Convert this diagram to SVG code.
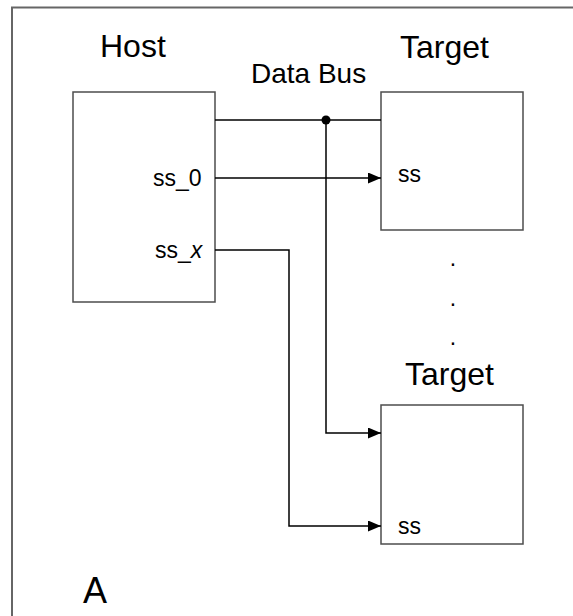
<svg xmlns="http://www.w3.org/2000/svg" width="573" height="616" viewBox="0 0 573 616">
<defs>
<style>
.box{fill:#fff;stroke:#4d4d4d;stroke-width:1.5}
.frame{fill:none;stroke:#666;stroke-width:2}
.wire{fill:none;stroke:#000;stroke-width:1.5}
.t{font-family:"Liberation Sans",Arial,sans-serif;fill:#000}
.big{font-size:32px}
.mid{font-size:28px}
.sm{font-size:23px}
</style>
<marker id="arr" viewBox="0 0 13 11" refX="13" refY="5.5" markerWidth="13" markerHeight="11" markerUnits="userSpaceOnUse" orient="auto">
<path d="M0,0 L13,5.5 L0,11 Z" fill="#000"/>
</marker>
</defs>
<rect width="573" height="616" fill="#fff"/>
<path class="frame" d="M12,620 L12,7.5 L580,7.5"/>
<g id="host">
<rect class="box" x="73" y="92" width="142" height="210"/>
<text class="t big" x="100" y="57">Host</text>
<text class="t sm" x="153" y="186">ss_0</text>
<text class="t sm" x="155" y="258">ss_<tspan font-style="italic">x</tspan></text>
</g>
<g id="target1">
<rect class="box" x="381" y="92" width="142" height="138"/>
<text class="t big" x="400" y="58">Target</text>
<text class="t sm" x="398" y="182">ss</text>
</g>
<g id="target2">
<rect class="box" x="381" y="405" width="142" height="139"/>
<text class="t big" x="405" y="385">Target</text>
<text class="t sm" x="398" y="534">ss</text>
</g>
<g id="dots">
<text class="t sm" x="453" y="266" text-anchor="middle">.</text>
<text class="t sm" x="453" y="306" text-anchor="middle">.</text>
<text class="t sm" x="453" y="345" text-anchor="middle">.</text>
</g>
<g id="labels">
<text class="t mid" x="251" y="83">Data Bus</text>
<text class="t" font-size="36" x="83" y="603">A</text>
</g>
<g id="connectors">
<path class="wire" d="M215,120 L381,120"/>
<circle cx="326" cy="120" r="4.5" fill="#000"/>
<path class="wire" d="M326,120 L326,433 L381,433" marker-end="url(#arr)"/>
<path class="wire" d="M215,178 L381,178" marker-end="url(#arr)"/>
<path class="wire" d="M215,250 L289,250 L289,526 L381,526" marker-end="url(#arr)"/>
</g>
</svg>
